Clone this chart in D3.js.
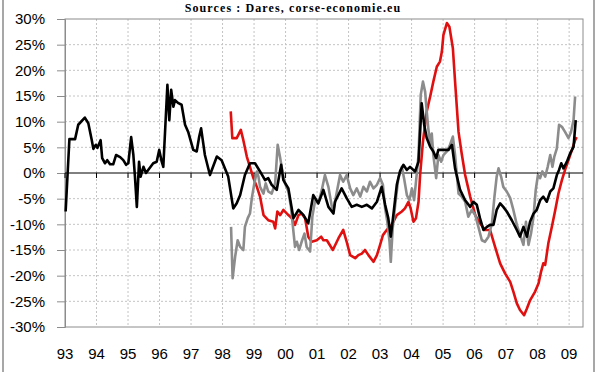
<!DOCTYPE html>
<meta charset="utf-8">
<html>
<head>
<script src="https://d3js.org/d3.v7.min.js"></script>
<style>
  body { margin: 0; background: #fff; }
  svg { display: block; }
  .tick-label { font-family: "Liberation Sans", Arial, sans-serif; font-size: 15px; fill: #000; }
  .title { font-family: "Liberation Serif", "Times New Roman", serif; font-size: 12px; font-weight: bold; letter-spacing: 1.1px; }
</style>
</head>
<body>
<svg width="600" height="372"></svg>
<script>

// years (decimal) and % values
var blackT = [1993.02,1993.14,1993.32,1993.42,1993.63,1993.74,1993.85,1993.90,1993.98,1994.03,1994.13,1994.18,1994.27,1994.34,1994.43,1994.53,1994.62,1994.75,1994.85,1994.94,1995.01,1995.10,1995.17,1995.22,1995.28,1995.35,1995.40,1995.49,1995.57,1995.64,1995.80,1995.91,1995.99,1996.07,1996.12,1996.25,1996.31,1996.37,1996.44,1996.49,1996.60,1996.70,1996.81,1996.91,1997.07,1997.18,1997.26,1997.32,1997.44,1997.60,1997.82,1997.97,1998.18,1998.34,1998.45,1998.56,1998.71,1998.87,1999.03,1999.19,1999.35,1999.45,1999.56,1999.72,1999.86,1999.93,2000.09,2000.25,2000.41,2000.57,2000.72,2000.88,2001.04,2001.20,2001.36,2001.52,2001.57,2001.78,2001.94,2002.10,2002.26,2002.42,2002.58,2002.74,2002.90,2003.05,2003.16,2003.26,2003.34,2003.42,2003.53,2003.63,2003.74,2003.85,2003.95,2004.11,2004.22,2004.32,2004.40,2004.48,2004.59,2004.69,2004.78,2004.85,2005.01,2005.17,2005.28,2005.38,2005.54,2005.70,2005.86,2005.96,2006.07,2006.17,2006.28,2006.39,2006.49,2006.60,2006.70,2006.81,2006.91,2007.02,2007.18,2007.34,2007.44,2007.55,2007.66,2007.76,2007.87,2007.97,2008.08,2008.18,2008.29,2008.40,2008.50,2008.61,2008.68,2008.75,2008.82,2008.93,2009.03,2009.14,2009.21];
var blackV = [-7.5,6.6,6.6,9.4,10.8,9.7,6.4,4.7,5.5,4.9,6.4,2.9,1.9,2.5,1.7,1.7,3.5,3.1,2.5,1.6,1.9,7.0,3.5,-0.7,-6.6,2.2,-0.7,1.2,0,0.6,1.9,2.2,4.5,2.2,1.2,17.2,10.3,16.2,12.9,14.2,13.6,13.3,9.4,8.0,4.5,4.2,7.1,8.7,3.5,-0.4,3.2,2.5,-0.7,-6.9,-5.9,-4.3,-0.4,1.9,1.9,0.3,-1.4,-1.0,-2.3,-3.3,1.6,-1.4,-3.0,-8.8,-7.2,-8.2,-9.8,-4.3,-5.9,-3.3,-6.6,-7.9,-5.6,-3.0,-4.9,-6.6,-6.2,-6.6,-6.2,-6.9,-5.6,-2.7,-6.2,-8.8,-12.4,-8.2,-2.3,0.3,1.6,0.6,1.2,0.3,2.2,13.6,9.4,6.8,5.1,4.2,2.9,4.5,4.5,4.5,5.5,0.9,-3.3,-5.3,-6.6,-5.6,-6.2,-8.8,-11.1,-10.5,-10.1,-10.1,-7.2,-5.9,-6.6,-7.5,-9.2,-11.1,-12.4,-10.5,-12.4,-9.5,-7.9,-7.2,-5.3,-4.6,-5.6,-3.6,-3.0,-0.4,0.6,1.9,0.9,2.2,3.8,5.1,10.3];

var redT = [1998.26,1998.31,1998.45,1998.58,1998.66,1998.77,1998.87,1998.98,1999.09,1999.19,1999.30,1999.45,1999.61,1999.67,1999.74,1999.83,1999.93,2000.09,2000.20,2000.30,2000.41,2000.51,2000.62,2000.72,2000.83,2000.99,2001.13,2001.20,2001.31,2001.50,2001.68,2001.83,2001.94,2002.05,2002.21,2002.31,2002.42,2002.52,2002.63,2002.79,2002.90,2003.00,2003.09,2003.21,2003.37,2003.53,2003.69,2003.79,2003.90,2003.97,2004.06,2004.14,2004.22,2004.27,2004.36,2004.48,2004.59,2004.69,2004.80,2004.90,2004.96,2005.01,2005.12,2005.20,2005.31,2005.38,2005.49,2005.59,2005.70,2005.86,2006.02,2006.17,2006.33,2006.49,2006.65,2006.81,2006.97,2007.13,2007.23,2007.34,2007.44,2007.57,2007.66,2007.76,2007.92,2008.03,2008.11,2008.18,2008.24,2008.34,2008.45,2008.56,2008.66,2008.77,2008.87,2008.98,2009.09,2009.19,2009.24];
var redV = [12.0,6.8,6.8,8.4,6.4,3.2,1.2,-1.0,-2.7,-4.6,-8.2,-9.2,-9.5,-10.8,-7.5,-8.2,-7.2,-8.2,-8.8,-10.1,-8.2,-7.9,-8.8,-12.4,-13.4,-13.1,-12.4,-13.1,-13.1,-15.0,-12.7,-11.1,-13.4,-16.0,-16.6,-16.0,-15.7,-15.0,-16.0,-17.3,-16.0,-14.0,-12.1,-11.1,-10.1,-8.2,-7.5,-6.9,-5.6,-6.9,-9.5,-8.8,-5.6,-0.4,6.1,12.0,14.9,17.8,20.7,21.7,23.6,26.9,29.2,28.5,24.3,17.8,8.0,3.8,-0.4,-4.6,-8.2,-9.8,-11.1,-11.1,-14.4,-17.6,-19.6,-21.2,-23.1,-25.4,-26.7,-27.7,-26.4,-24.8,-23.1,-21.5,-19.2,-17.6,-17.9,-13.7,-10.5,-7.2,-4.0,-1.4,0.6,2.5,4.5,6.4,7.0];

var grayT = [1998.27,1998.32,1998.40,1998.48,1998.56,1998.66,1998.71,1998.80,1998.87,1998.93,1999.01,1999.09,1999.14,1999.19,1999.30,1999.37,1999.45,1999.56,1999.67,1999.75,1999.83,1999.90,1999.98,2000.09,2000.17,2000.25,2000.30,2000.36,2000.43,2000.51,2000.60,2000.67,2000.78,2000.85,2000.94,2001.04,2001.15,2001.25,2001.36,2001.47,2001.52,2001.63,2001.73,2001.83,2001.94,2002.05,2002.15,2002.26,2002.37,2002.47,2002.58,2002.68,2002.79,2002.90,2003.00,2003.09,2003.16,2003.23,2003.30,2003.34,2003.40,2003.48,2003.58,2003.69,2003.76,2003.85,2003.93,2004.01,2004.08,2004.14,2004.22,2004.29,2004.36,2004.43,2004.48,2004.53,2004.59,2004.64,2004.69,2004.78,2004.85,2004.94,2005.01,2005.12,2005.22,2005.31,2005.38,2005.49,2005.59,2005.70,2005.80,2005.91,2006.02,2006.12,2006.23,2006.33,2006.44,2006.55,2006.63,2006.70,2006.76,2006.84,2006.91,2007.02,2007.13,2007.23,2007.34,2007.44,2007.55,2007.63,2007.71,2007.79,2007.87,2007.94,2008.01,2008.08,2008.15,2008.24,2008.32,2008.40,2008.47,2008.53,2008.61,2008.68,2008.77,2008.87,2008.98,2009.06,2009.14,2009.19];
var grayV = [-10.5,-20.5,-16.3,-13.1,-14.4,-15.0,-10.5,-8.8,-7.9,-4.9,-2.0,0.3,-0.7,-2.7,-4.0,-2.0,-3.6,-4.0,-2.0,5.5,2.9,0.3,-2.0,-3.6,-6.6,-11.4,-14.4,-13.4,-15.0,-13.4,-11.8,-14.4,-15.3,-8.5,-5.3,-5.9,-3.3,-0.4,-2.7,-6.6,-7.2,-3.6,-0.4,-1.7,-0.4,-3.0,-4.3,-3.0,-4.6,-2.7,-3.6,-1.7,-3.0,-2.3,-1.0,-2.3,-6.9,-9.5,-13.4,-17.3,-10.8,-6.2,-1.0,1.2,-1.0,-4.3,-5.3,-3.0,-5.3,-1.7,3.5,15.2,17.8,15.8,12.0,8.7,5.5,7.7,3.5,-1.0,3.5,2.2,3.5,4.2,5.5,7.1,3.5,-4.0,-4.6,-5.6,-8.5,-7.2,-8.2,-10.5,-13.1,-13.4,-12.4,-9.8,-4.6,-0.7,0.9,-0.7,-2.7,-3.6,-4.9,-7.2,-10.1,-12.0,-14.0,-9.5,-14.0,-11.8,-8.5,-3.3,-0.4,-1.0,0.3,-0.7,1.2,3.5,1.2,3.2,4.8,9.4,9.0,8.0,6.8,8.0,10.3,14.9];

var yTicks = [30, 25, 20, 15, 10, 5, 0, -5, -10, -15, -20, -25, -30];
var yearTicks = d3.range(1993, 2010);

var svg = d3.select("svg");

var x = d3.scaleLinear().domain([1993, 2009.44]).range([65, 583]);
var y = d3.scaleLinear().domain([-30, 30]).range([327, 19]);

// outer frame
svg.append("line").attr("x1", 3).attr("x2", 3).attr("y1", 0).attr("y2", 372)
    .attr("stroke", "#8a8a8a").attr("stroke-width", 1.5);
svg.append("line").attr("x1", 594).attr("x2", 594).attr("y1", 0).attr("y2", 372)
    .attr("stroke", "#8a8a8a").attr("stroke-width", 1.5);

svg.append("text")
    .attr("class", "title")
    .attr("x", 293).attr("y", 12)
    .attr("text-anchor", "middle")
    .text("Sources : Dares, corse-economie.eu");

// grid
svg.append("g").selectAll("line")
    .data(yTicks.filter(function(d) { return d != 0 && d != 30 && d != -30; }))
    .enter().append("line")
    .attr("x1", 65).attr("x2", 583)
    .attr("y1", function(d) { return y(d); }).attr("y2", function(d) { return y(d); })
    .attr("stroke", "#c4c4c4").attr("stroke-dasharray", "2,2");

svg.append("g").selectAll("line")
    .data(yearTicks.slice(1))
    .enter().append("line")
    .attr("x1", function(d) { return x(d); }).attr("x2", function(d) { return x(d); })
    .attr("y1", 19).attr("y2", 327)
    .attr("stroke", "#c4c4c4").attr("stroke-dasharray", "2,2");

// plot border
svg.append("rect")
    .attr("x", 65).attr("y", 19).attr("width", 518).attr("height", 308)
    .attr("fill", "none").attr("stroke", "#8c8c8c").attr("stroke-width", 1);

// y axis
var yAxis = d3.axisLeft(y).tickValues(yTicks).tickSize(8).tickPadding(12)
    .tickFormat(function(d) { return d + "%"; });
var gy = svg.append("g").attr("transform", "translate(65,0)").call(yAxis);
gy.select(".domain").attr("stroke", "#8c8c8c");
gy.selectAll(".tick line").attr("stroke", "#8c8c8c");
gy.selectAll(".tick text").attr("class", "tick-label").attr("font-size", null).attr("font-family", null);

// zero line with year ticks
svg.append("line").attr("x1", 65).attr("x2", 583)
    .attr("y1", y(0)).attr("y2", y(0)).attr("stroke", "#000").attr("stroke-width", 1);
svg.append("g").selectAll("line")
    .data(yearTicks)
    .enter().append("line")
    .attr("x1", function(d) { return x(d); }).attr("x2", function(d) { return x(d); })
    .attr("y1", y(0)).attr("y2", y(0) + 5)
    .attr("stroke", "#000");

// year labels
svg.append("g").selectAll("text")
    .data(yearTicks)
    .enter().append("text")
    .attr("class", "tick-label")
    .attr("x", function(d) { return x(d); })
    .attr("y", 359)
    .attr("text-anchor", "middle")
    .text(function(d) { return String(d).slice(2); });

// series
var line = d3.line()
    .x(function(d) { return x(d[0]); })
    .y(function(d) { return y(d[1]); });

function drawSeries(ts, vs, color) {
  svg.append("path")
      .datum(d3.zip(ts, vs))
      .attr("d", line)
      .attr("fill", "none")
      .attr("stroke", color)
      .attr("stroke-width", 2.6)
      .attr("stroke-linejoin", "round");
}

drawSeries(redT, redV, "#e01010");
drawSeries(grayT, grayV, "#8c8c8c");
drawSeries(blackT, blackV, "#000");

</script>
</body>
</html>
